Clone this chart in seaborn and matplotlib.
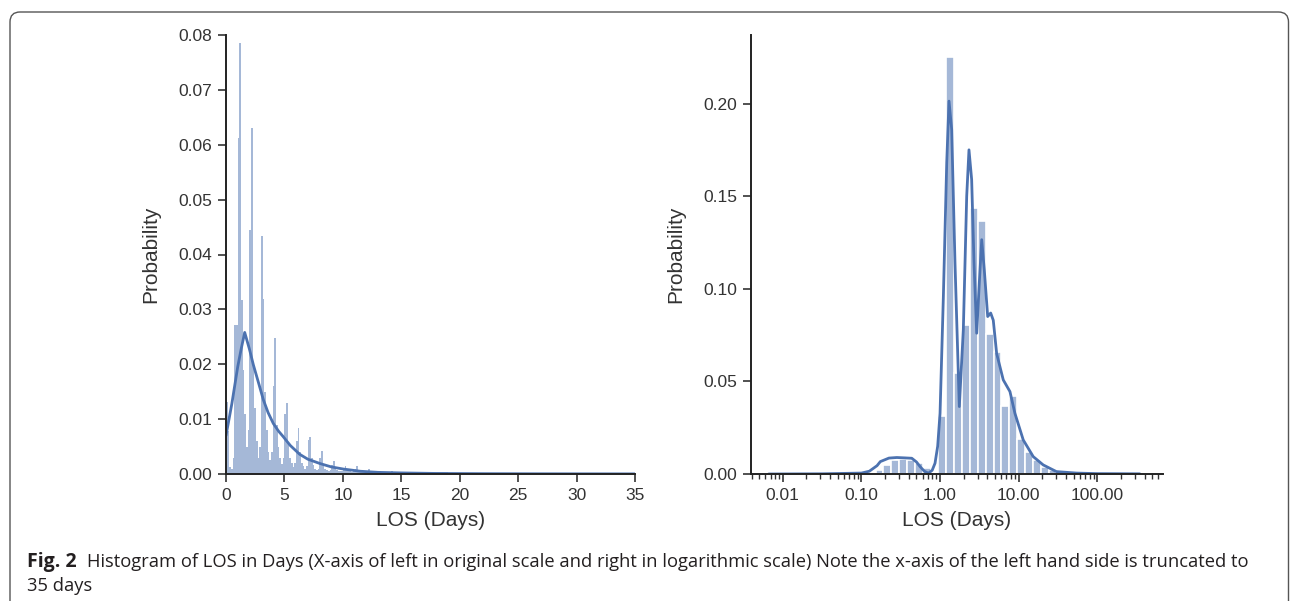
import numpy as np
import pandas as pd
import matplotlib
matplotlib.use("Agg")
import matplotlib.pyplot as plt
from matplotlib.patches import FancyBboxPatch
from matplotlib.ticker import FormatStrFormatter, LogLocator, NullFormatter
import seaborn as sns

# ---- data ----
# left panel: LOS in days, 7 bins per day for days 0-14
left_bins_per_day = 7
left_day_heights = [
    [0.0132, 0.0078, 0.0012, 0.0010, 0.0030, 0.0272, 0.0272],  # day 0
    [0.0612, 0.0786, 0.0317, 0.0190, 0.0110, 0.0050, 0.0080],  # day 1
    [0.0445, 0.0630, 0.0200, 0.0120, 0.0060, 0.0030, 0.0050],  # day 2
    [0.0433, 0.0318, 0.0150, 0.0080, 0.0040, 0.0025, 0.0040],  # day 3
    [0.0160, 0.0248, 0.0090, 0.0050, 0.0030, 0.0018, 0.0030],  # day 4
    [0.0110, 0.0130, 0.0055, 0.0030, 0.0020, 0.0012, 0.0020],  # day 5
    [0.0060, 0.0083, 0.0040, 0.0020, 0.0014, 0.0010, 0.0014],  # day 6
    [0.0062, 0.0068, 0.0030, 0.0016, 0.0010, 0.0008, 0.0010],  # day 7
    [0.0030, 0.0042, 0.0018, 0.0010, 0.0008, 0.0006, 0.0008],  # day 8
    [0.0016, 0.0024, 0.0012, 0.0008, 0.0006, 0.0005, 0.0006],  # day 9
    [0.0010, 0.0015, 0.0009, 0.0006, 0.0005, 0.0004, 0.0005],  # day 10
    [0.0010, 0.0015, 0.0008, 0.0005, 0.0004, 0.0004, 0.0004],  # day 11
    [0.0006, 0.0009, 0.0006, 0.0004, 0.0003, 0.0003, 0.0003],  # day 12
    [0.0005, 0.0006, 0.0004, 0.0003, 0.0003, 0.0002, 0.0003],  # day 13
    [0.0004, 0.0006, 0.0003, 0.0003, 0.0002, 0.0002, 0.0002],  # day 14
]
# one bin per day from day 15 to 35
left_tail_heights = [0.0004, 0.0003, 0.0003, 0.0003, 0.0002, 0.0002, 0.0002,
                     0.0002, 0.0002, 0.0001, 0.0001, 0.0001, 0.0001, 0.0001,
                     0.0001, 0.0001, 0.0001, 0.0001, 0.0001, 0.0001]

left_kde_x = [0, 0.5, 1.0, 1.3, 1.6, 2.0, 2.34, 2.8, 3.2, 3.6, 4.05, 4.5, 4.9,
              5.5, 6.3, 7.0, 8.05, 9.0, 10.05, 11.5, 13.0, 15, 18, 22, 26, 30, 35]
left_kde_y = [0.0070, 0.0128, 0.0195, 0.0228, 0.0258, 0.0228, 0.0199, 0.0165,
              0.0135, 0.0112, 0.0092, 0.0078, 0.0068, 0.0052, 0.0036, 0.0027,
              0.0019, 0.0013, 0.0009, 0.0005, 0.0003, 0.0002, 0.0001, 0.00006,
              0.00004, 0.00003, 0.00002]

# right panel: log10 bins of width 0.1 starting at 10**-0.82 days
right_bin_start_log = -0.82
right_bin_width_log = 0.1
right_heights = [0.0020, 0.0050, 0.0076, 0.0080, 0.0076, 0.0060, 0.0030, 0.0008,
                 0.0315, 0.2250, 0.0544, 0.0805, 0.1436, 0.1368, 0.0757, 0.0656,
                 0.0369, 0.0422, 0.0188, 0.0121, 0.0076, 0.0040, 0.0022, 0.0010,
                 0.0005, 0.0003]

right_kde_x = [0.0066, 0.032, 0.10, 0.126, 0.158, 0.174, 0.224, 0.282, 0.355,
               0.437, 0.501, 0.557, 0.631, 0.711, 0.794, 0.863, 0.933, 1.0,
               1.102, 1.216, 1.30, 1.406, 1.549, 1.758, 1.977, 2.183, 2.333,
               2.523, 2.704, 2.924, 3.155, 3.388, 3.656, 4.036, 4.406, 4.753,
               5.248, 6.368, 7.745, 8.954, 11.43, 15.31, 20.51, 30.2, 54.5,
               100, 347]
right_kde_y = [0.0, 0.0001, 0.0005, 0.0015, 0.0045, 0.0067, 0.0086, 0.0089,
               0.0087, 0.0085, 0.0065, 0.0040, 0.0015, 0.0004, 0.0020, 0.0058,
               0.0150, 0.0328, 0.0958, 0.1680, 0.2013, 0.1860, 0.1139, 0.0364,
               0.0778, 0.1500, 0.1750, 0.1590, 0.1140, 0.0760, 0.1030, 0.1265,
               0.1100, 0.0850, 0.0869, 0.0830, 0.0650, 0.0508, 0.0445, 0.0328,
               0.0184, 0.0094, 0.0049, 0.0013, 0.0005, 0.0002, 0.0001]

caption_bold = "Fig. 2"
caption_text = ("Histogram of LOS in Days (X-axis of left in original scale and right "
                "in logarithmic scale) Note the x-axis of the left hand side is truncated to")
caption_line2 = "35 days"

# ---- build bins ----
left_edges = [d + k / left_bins_per_day for d in range(len(left_day_heights))
              for k in range(left_bins_per_day)]
left_edges += [15 + k for k in range(len(left_tail_heights) + 1)]
left_heights = [h for day in left_day_heights for h in day] + left_tail_heights
left_centers = [(a + b) / 2 for a, b in zip(left_edges[:-1], left_edges[1:])]

right_edges_log = [right_bin_start_log + right_bin_width_log * k
                   for k in range(len(right_heights) + 1)]
right_edges = [10 ** e for e in right_edges_log]
right_centers = [10 ** ((a + b) / 2) for a, b in zip(right_edges_log[:-1], right_edges_log[1:])]

# ---- plot ----
sns.set_style("ticks")
plt.rcParams["font.family"] = ["Liberation Sans", "DejaVu Sans"]
blue = "#4C72B0"
W, H = 1290, 601
fig = plt.figure(figsize=(W / 100, H / 100), dpi=100)

ax1 = fig.add_axes([226 / W, 1 - 474 / H, (635 - 226) / W, (474 - 35) / H])
ax2 = fig.add_axes([751 / W, 1 - 474 / H, (1163 - 751) / W, (474 - 35) / H])

sns.histplot(x=left_centers, weights=left_heights, bins=left_edges, color=blue,
             alpha=0.5, linewidth=0, ax=ax1)
sns.lineplot(x=left_kde_x, y=left_kde_y, color=blue, lw=2, ax=ax1)
ax1.set_xlim(0, 35)
ax1.set_ylim(0, 0.08)
ax1.set_xticks(range(0, 36, 5))
ax1.set_yticks(np.arange(0, 0.081, 0.01))
ax1.yaxis.set_major_formatter(FormatStrFormatter("%.2f"))

sns.histplot(x=right_centers, weights=right_heights, bins=right_edges, color=blue,
             alpha=0.5, edgecolor="white", linewidth=1.2, ax=ax2)
sns.lineplot(x=right_kde_x, y=right_kde_y, color=blue, lw=2, ax=ax2)
ax2.set_xscale("log")
ax2.set_xlim(0.00394, 685)
ax2.set_ylim(0, 0.237)
ax2.set_yticks(np.arange(0, 0.201, 0.05))
ax2.yaxis.set_major_formatter(FormatStrFormatter("%.2f"))
ax2.xaxis.set_major_locator(LogLocator(base=10, numticks=12))
ax2.xaxis.set_minor_locator(LogLocator(base=10, subs=np.arange(2, 10), numticks=12))
ax2.xaxis.set_major_formatter(FormatStrFormatter("%.2f"))
ax2.xaxis.set_minor_formatter(NullFormatter())

for ax in (ax1, ax2):
    sns.despine(ax=ax)
    ax.set_xlabel("LOS (Days)", fontsize=15, color="#333333", labelpad=6)
    ax.set_ylabel("Probability", fontsize=15, color="#333333", labelpad=13)
    ax.tick_params(axis="both", which="major", labelsize=12.5, length=6,
                   width=1.2, colors="#333333", pad=4)
    ax.tick_params(axis="x", which="minor", length=3.5, width=1.0, colors="#333333")
    for s in ("left", "bottom"):
        ax.spines[s].set_color("#222222")
        ax.spines[s].set_linewidth(1.4)

# caption and outer frame
frame = FancyBboxPatch((10, -30), 1278.5, 601 - 12 + 30,
                       boxstyle="round,pad=0,rounding_size=10",
                       transform=None, facecolor="none", edgecolor="#555555",
                       linewidth=1.0, clip_on=False)
fig.add_artist(frame)
cap_font = ["Open Sans", "DejaVu Sans"]
fig.text(27 / W, 1 - 562 / H, caption_bold, fontsize=14, fontweight="bold",
         family=cap_font, color="#231f20", va="center")
fig.text(87 / W, 1 - 562 / H, caption_text, fontsize=13.2,
         family=cap_font, color="#231f20", va="center")
fig.text(27 / W, 1 - 586 / H, caption_line2, fontsize=13.2,
         family=cap_font, color="#231f20", va="center")

fig.savefig("out.png", dpi=100)
